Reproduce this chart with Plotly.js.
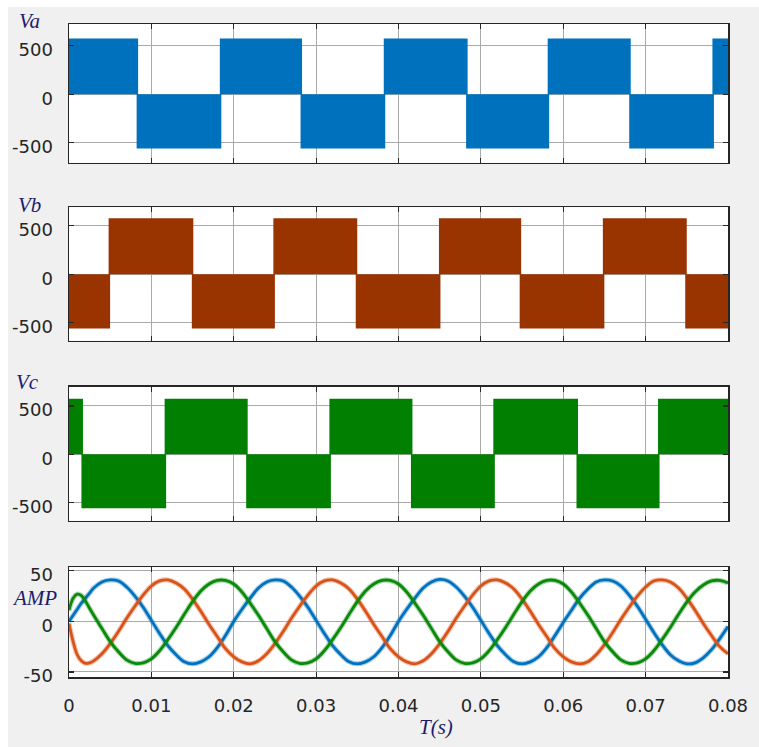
<!DOCTYPE html>
<html>
<head>
<meta charset="utf-8">
<script src="https://cdn.plot.ly/plotly-3.0.1.min.js"></script>
<style>html,body{margin:0;padding:0;background:#f0f0f0;}#chart{width:759px;height:747px;}</style>
</head>
<body>
<div id="chart"></div>
<script>
// ---- Phase voltages (PWM blocks): switching instants (s) and block levels (V) ----
const vaT = [0, 0.0083, 0.0184, 0.0282, 0.0383, 0.0483, 0.0582, 0.0681, 0.0782, 0.08];
const vaV = [568, -550, 568, -550, 568, -550, 568, -550, 568, 568];
const vbT = [0, 0.0049, 0.0150, 0.0249, 0.0349, 0.0450, 0.0548, 0.0649, 0.0749, 0.08];
const vbV = [-550, 568, -550, 568, -550, 568, -550, 568, -550, -550];
const vcT = [0, 0.0016, 0.0117, 0.0216, 0.0317, 0.0416, 0.0516, 0.0617, 0.0716, 0.08];
const vcV = [568, -550, 568, -550, 568, -550, 568, -550, 568, 568];

// ---- Phase currents (A) ----
const tI = [0, 0.0005, 0.001, 0.0015, 0.002, 0.0025, 0.003,
  0.004, 0.005, 0.006, 0.007, 0.008, 0.009, 0.010, 0.011, 0.012, 0.013, 0.014, 0.015, 0.016, 0.017, 0.018, 0.019,
  0.020, 0.021, 0.022, 0.023, 0.024, 0.025, 0.026, 0.027, 0.028, 0.029, 0.030, 0.031, 0.032, 0.033, 0.034, 0.035, 0.036, 0.037, 0.038, 0.039,
  0.040, 0.041, 0.042, 0.043, 0.044, 0.045, 0.046, 0.047, 0.048, 0.049, 0.050, 0.051, 0.052, 0.053, 0.054, 0.055, 0.056, 0.057, 0.058, 0.059,
  0.060, 0.061, 0.062, 0.063, 0.064, 0.065, 0.066, 0.067, 0.068, 0.069, 0.070, 0.071, 0.072, 0.073, 0.074, 0.075, 0.076, 0.077, 0.078, 0.079, 0.080];
const iA = [0, 6, 12, 18, 23, 28, 33,
  39, 41, 40, 34, 25, 14, 1, -12, -24, -33, -40, -42, -40, -35, -26, -14,
  0, 12, 23, 33, 39, 41, 40, 34, 25, 14, 1, -12, -24, -33, -40, -42, -40, -35, -26, -14,
  0, 12, 23, 33, 39, 41.5, 40, 34, 25, 14, 1, -12, -24, -33, -40, -42, -40, -35, -26, -14,
  -1, 11, 23, 32, 39, 41, 40, 35, 26, 15, 2, -11, -23, -33, -39, -42, -41, -36, -28, -17, -5];
const iB = [-2, -20, -33, -39, -41.5, -41, -39,
  -32, -22, -10, 3, 15, 26, 35, 40, 41, 38, 32, 22, 10, -3, -15, -27,
  -35, -40, -42, -39, -32, -22, -10, 3, 15, 26, 35, 40, 41, 38, 32, 22, 10, -3, -15, -27,
  -35, -40, -42, -39, -32, -22, -10, 3, 15, 26, 35, 40, 41, 38, 32, 22, 10, -3, -15, -27,
  -35, -40, -42, -40, -33, -23, -11, 2, 14, 25, 34, 40, 41, 39, 33, 23, 11, -2, -14, -25, -32];
const iC = [11, 23, 27, 25.5, 20, 13, 6,
  -7, -20, -30, -38, -41.5, -41, -37, -29, -18, -6, 7, 19.5, 30, 37, 40.5, 40.5,
  37, 29, 18, 6, -7, -20, -30, -38, -41.5, -41, -37, -29, -18, -6, 7, 19.5, 30, 37, 40.5, 40.5,
  37, 29, 18, 6, -7, -20, -30, -38, -41.5, -41, -37, -29, -18, -6, 7, 19.5, 30, 37, 40.5, 40.5,
  37, 29, 18, 6, -7, -20, -30, -38, -41.5, -41, -37, -29, -18, -6, 7, 19, 29, 36, 40, 40.5, 38];

const xTicks = [0, 0.01, 0.02, 0.03, 0.04, 0.05, 0.06, 0.07, 0.08];
const xTickText = ['0', '0.01', '0.02', '0.03', '0.04', '0.05', '0.06', '0.07', '0.08'];
const vTicks = [-500, 0, 500];
const vTickText = ['-500', '0', '500'];
const iTicks = [-50, 0, 50];
const iTickText = ['-50', '0', '50'];

const cA = '#0072BD', cB = '#993300', cC = '#007F00';
const cIa = '#0072BD', cIb = '#D95319', cIc = '#0A8A0A';

function block(x, y, color, xa, ya) {
  return {x: x, y: y, xaxis: xa, yaxis: ya, type: 'scatter', mode: 'lines',
    line: {shape: 'hv', color: color, width: 1.5}, fill: 'tozeroy', fillcolor: color,
    hoverinfo: 'skip', showlegend: false};
}
function cur(y, color, w, op) {
  return {x: tI, y: y, xaxis: 'x4', yaxis: 'y4', type: 'scatter', mode: 'lines',
    line: {shape: 'spline', smoothing: 1, color: color, width: w}, opacity: op,
    hoverinfo: 'skip', showlegend: false};
}

const data = [
  block(vaT, vaV, cA, 'x', 'y'),
  block(vbT, vbV, cB, 'x2', 'y2'),
  block(vcT, vcV, cC, 'x3', 'y3'),
  cur(iA, cIa, 5, 0.35), cur(iA, cIa, 2.8, 1),
  cur(iB, cIb, 5, 0.35), cur(iB, cIb, 2.8, 1),
  cur(iC, cIc, 5, 0.35), cur(iC, cIc, 2.8, 1)
];

const tickFont = {family: 'DejaVu Sans, Arial, sans-serif', size: 18, color: '#262626'};
function xax(showLabels) {
  return {range: [0, 0.08], tickvals: xTicks, ticktext: xTickText, showticklabels: showLabels,
    ticks: 'inside', ticklen: 5, tickcolor: '#262626', tickwidth: 1.2,
    showline: true, linecolor: '#262626', linewidth: 1.5, mirror: 'ticks',
    showgrid: true, gridcolor: '#aaaaaa', gridwidth: 1, zeroline: false,
    tickfont: tickFont, ticklabelstandoff: 12, fixedrange: true};
}
function yax(range, ticks, text, domain) {
  return {range: range, tickvals: ticks, ticktext: text, domain: domain,
    ticks: 'inside', ticklen: 5, tickcolor: '#262626', tickwidth: 1.2,
    showline: true, linecolor: '#262626', linewidth: 1.5, mirror: 'ticks',
    showgrid: true, gridcolor: '#aaaaaa', gridwidth: 1, zeroline: false,
    tickfont: tickFont, ticklabelstandoff: 11, ticklabelshift: 4, fixedrange: true};
}

const labFont = {family: 'Liberation Serif, Times New Roman, serif', size: 21, color: '#1c1c6e'};
function lab(text, x, y) {
  return {text: '<i>' + text + '</i>', x: x, y: y, xref: 'paper', yref: 'paper',
    xanchor: 'center', yanchor: 'middle', showarrow: false, font: labFont};
}

const layout = {
  width: 759, height: 747,
  margin: {l: 69, r: 31, t: 24, b: 70, pad: 0},
  paper_bgcolor: '#f0f0f0', plot_bgcolor: '#ffffff',
  showlegend: false,
  xaxis: Object.assign(xax(false), {anchor: 'y'}),
  xaxis2: Object.assign(xax(false), {anchor: 'y2', matches: 'x'}),
  xaxis3: Object.assign(xax(false), {anchor: 'y3', matches: 'x'}),
  xaxis4: Object.assign(xax(true), {anchor: 'y4', matches: 'x'}),
  yaxis: Object.assign(yax([-705, 725], vTicks, vTickText, [0.7876, 1.0]), {anchor: 'x'}),
  yaxis2: Object.assign(yax([-683, 688], vTicks, vTickText, [0.515, 0.7193]), {anchor: 'x2'}),
  yaxis3: Object.assign(yax([-687, 700], vTicks, vTickText, [0.2394, 0.4446]), {anchor: 'x3'}),
  yaxis4: Object.assign(yax([-55, 53.5], iTicks, iTickText, [0, 0.168]), {anchor: 'x4'}),
  annotations: [
    lab('Va', -0.0592, 1.0046),
    lab('Vb', -0.0592, 0.7228),
    lab('Vc', -0.0637, 0.4518),
    lab('AMP', -0.0516, 0.121),
    lab('T(s)', 0.5569, -0.0766)
  ],
  shapes: [
    {type: 'rect', xref: 'paper', yref: 'paper', x0: -0.106, x1: -0.0926, y0: -0.11, y1: 1.04,
      fillcolor: '#ffffff', line: {width: 0}, layer: 'below'},
    {type: 'rect', xref: 'paper', yref: 'paper', x0: -0.106, x1: 1.05, y0: 1.026, y1: 1.04,
      fillcolor: '#ffffff', line: {width: 0}, layer: 'below'}
  ]
};

Plotly.newPlot('chart', data, layout, {displayModeBar: false, staticPlot: true});
</script>
</body>
</html>
